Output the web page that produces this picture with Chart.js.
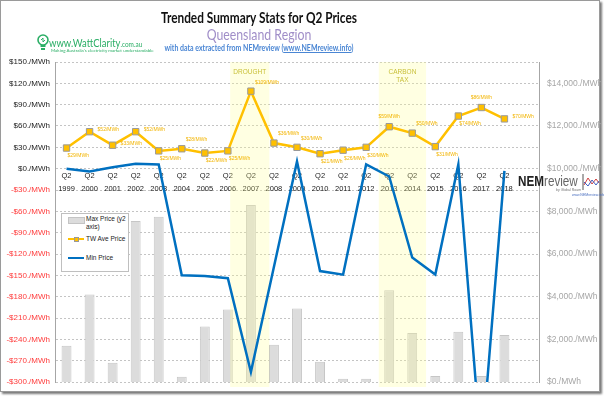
<!DOCTYPE html>
<html>
<head>
<meta charset="utf-8">
<script src="https://cdn.jsdelivr.net/npm/chart.js@4"></script>
<style>
  body { margin: 0; background: #fff; }
  #wrap { position: relative; width: 604px; height: 396px; overflow: hidden; }
  #frame { position: absolute; left: 0; top: 0; width: 598px; height: 390px; border: 1px solid #9a9a9a; box-shadow: 2px 2px 2px #7a7a7a; }
  canvas { position: absolute; left: 0; top: 0; }
  .t { position: absolute; white-space: nowrap; font-family: Lato, sans-serif; }
  .c { left: 59px; width: 400px; text-align: center; transform-origin: 50% 50%; }
  #title { top: 7px; font-size: 16px; font-weight: bold; color: #111; transform: scaleX(0.74); }
  #region { top: 25px; font-size: 15px; color: #a08ec8; transform: scaleX(0.82); }
  #sub { top: 43px; font-size: 8.5px; font-weight: bold; color: #4a86d4; transform: scaleX(0.82); }
  #sub u { color: #4a86d4; }
  #wc { left: 49px; top: 36px; font-size: 11px; color: #2bae66; transform: scaleX(0.86); transform-origin: 0 50%; }
  #wc small { font-size: 7.5px; }
  #wctag { left: 51px; top: 48px; font-size: 4.5px; color: #2bae66; }
  #bulb { position: absolute; left: 37px; top: 34px; }
  #nem { left: 518px; top: 172px; font-size: 15px; color: #222; font-family: "Liberation Sans", sans-serif; transform: scaleX(0.78); transform-origin: 0 50%; }
  #nem b { font-weight: bold; }
  #nem span { color: #666; }
  #nemby { left: 556px; top: 188px; font-size: 3.5px; color: #777; font-family: "Liberation Sans", sans-serif; }
  #nemurl { left: 572px; top: 193px; font-size: 3.5px; color: #4a6fc0; font-family: "Liberation Sans", sans-serif; }
  #nemicon { position: absolute; left: 582px; top: 173px; }
  #legend { position: absolute; left: 61px; top: 213px; width: 66px; height: 57px; border: 1px solid #bfbfbf; background: #fff;
            font-family: "Liberation Sans", sans-serif; font-size: 6.5px; color: #222; }
  .li { position: absolute; left: 24px; }
  .sw { position: absolute; left: 6px; }
</style>
</head>
<body>
<div id="wrap">
  <div id="frame"></div>
  <canvas id="chart" width="604" height="396"></canvas>
  <div class="t c" id="title">Trended Summary Stats for Q2 Prices</div>
  <div class="t c" id="region">Queensland Region</div>
  <div class="t c" id="sub">with data extracted from NEMreview (<u>www.NEMreview.info</u>)</div>
  <svg id="bulb" width="12" height="19" viewBox="0 0 12 19">
    <circle cx="6" cy="6" r="5" fill="none" stroke="#2bae66" stroke-width="1.6"/>
    <path d="M4 6 L6 4 L6 8 L8 6" fill="none" stroke="#2bae66" stroke-width="1"/>
    <rect x="3.5" y="11" width="5" height="2" fill="#2bae66"/>
    <rect x="4" y="14" width="4" height="2" fill="#2bae66"/>
  </svg>
  <div class="t" id="wc">www.WattClarity<small>.com.au</small></div>
  <div class="t" id="wctag">Making Australia's electricity market understandable</div>
  <div class="t" id="nem"><b>NEM</b><span>review</span></div>
  <svg id="nemicon" width="18" height="18" viewBox="0 0 18 18">
    <line x1="1" y1="1" x2="1" y2="17" stroke="#555" stroke-width="1"/>
    <polyline points="2,12 6,5 10,11 14,6 17,10" fill="none" stroke="#d04040" stroke-width="1"/>
    <polyline points="2,9 6,13 10,7 14,12 17,8" fill="none" stroke="#4060c0" stroke-width="1"/>
  </svg>
  <div class="t" id="nemby">by Global Roam</div>
  <div class="t" id="nemurl">www.NEMreview.info</div>
  <div id="legend">
    <div class="sw" style="top:3px;width:15px;height:5px;background:#dcdcdc;border:1px solid #c4c4c4;"></div>
    <div class="li" style="top:1px;line-height:8px;">Max Price (y2<br>axis)</div>
    <div class="sw" style="top:24px;width:16px;height:2px;background:#ffc000;"></div>
    <div class="sw" style="left:12px;top:23px;width:3px;height:3px;background:#ffc000;border:1px solid #999;"></div>
    <div class="li" style="top:21px;">TW Ave Price</div>
    <div class="sw" style="top:43px;width:16px;height:2px;background:#0070c0;"></div>
    <div class="li" style="top:40px;">Min Price</div>
  </div>
</div>
<script>
const years = ['1999', '2000', '2001', '2002', '2003', '2004', '2005', '2006', '2007', '2008',
               '2009', '2010', '2011', '2012', '2013', '2014', '2015', '2016', '2017', '2018', ''];
const maxPrice = [1700, 4100, 900, 7550, 7750, 250, 2600, 3400, 8300, 1750,
                  3450, 950, 150, 150, 4300, 2300, 280, 2350, 280, 2200];
const avgPrice = [29, 52, 33, 52, 25, 28, 22, 25, 109, 36,
                  30, 21, 26, 30, 59, 50, 31, 74, 86, 70];
const minPrice = [0, -4, 2, 7, 6, -150, -151, -154, -286, -138,
                  10, -144, -149, 6, -11, -125, -149, 6, -400, -3];
const leftTicks = { min: -300, max: 150, step: 30 };
const rightTickValues = [0, 2000, 4000, 6000, 8000, 10000, 12000, 14000];
const rightMax = 15000;
const bands = [
  { from: 7.1, to: 8.8, lines: ['DROUGHT'] },
  { from: 13.55, to: 15.6, lines: ['CARBON', 'TAX'] }
];

// where each avg label sits relative to its marker
const labelPlace = ['b', 'r', 'r', 'r', 'b', 'ar', 'b', 'b', 'ar', 'ar',
                    'ar', 'b', 'b', 'b', 'a', 'ar', 'b', 'b', 'a', 'r'];

const fmtLeft = v => (v < 0 ? '-$' + Math.abs(v) : '$' + v) + './MWh';
const fmtRight = v => '$' + v.toLocaleString('en-US') + './MWh';

const bandPlugin = {
  id: 'bands',
  afterDatasetDraw(chart, args) {
    if (args.index !== 0) return;
    const { ctx, chartArea } = chart;
    const x = chart.scales.x;
    ctx.save();
    bands.forEach(b => {
      const x0 = x.getPixelForValue(b.from), x1 = x.getPixelForValue(b.to);
      ctx.fillStyle = 'rgba(255,255,150,0.28)';
      ctx.fillRect(x0, chartArea.top, x1 - x0, chartArea.bottom - chartArea.top + 5);
      ctx.fillStyle = '#c9c03a';
      ctx.font = '6.5px "Liberation Sans", sans-serif';
      ctx.textAlign = 'center';
      ctx.textBaseline = 'middle';
      b.lines.forEach((t, i) => ctx.fillText(t, (x0 + x1) / 2, chartArea.top + 10 + i * 8));
    });
    ctx.restore();
  }
};

const labelPlugin = {
  id: 'avgLabels',
  afterDatasetsDraw(chart) {
    const { ctx } = chart;
    const meta = chart.getDatasetMeta(1);
    ctx.save();
    ctx.fillStyle = '#f2b400';
    ctx.font = '5px "Liberation Sans", sans-serif';
    ctx.textBaseline = 'middle';
    meta.data.forEach((pt, i) => {
      const txt = '$' + avgPrice[i] + '/MWh';
      const p = labelPlace[i];
      let dx = 0, dy = 0;
      ctx.textAlign = 'left';
      if (p === 'r') { dx = 8; dy = -2; }
      else if (p === 'b') { dx = 1; dy = 8; }
      else if (p === 'ar') { dx = 4; dy = -9; }
      else { ctx.textAlign = 'center'; dy = -10; }
      ctx.fillText(txt, pt.x + dx, pt.y + dy);
    });
    ctx.restore();
  }
};

new Chart(document.getElementById('chart'), {
  type: 'bar',
  data: {
    labels: years.map(y => y ? ['Q2', y] : ''),
    datasets: [
      {
        type: 'bar',
        label: 'Max Price (y2 axis)',
        data: maxPrice,
        yAxisID: 'y2',
        backgroundColor: '#dcdcdc',
        borderColor: '#c6c6c6',
        borderWidth: 1,
        categoryPercentage: 1,
        barPercentage: 0.43,
        order: 3
      },
      {
        type: 'line',
        label: 'TW Ave Price',
        data: avgPrice,
        yAxisID: 'y',
        borderColor: '#ffc000',
        borderWidth: 2.5,
        pointStyle: 'rect',
        pointRadius: 4.5,
        pointBackgroundColor: '#ffc000',
        pointBorderColor: '#9a9a9a',
        pointBorderWidth: 1,
        tension: 0,
        order: 1
      },
      {
        type: 'line',
        label: 'Min Price',
        data: minPrice,
        yAxisID: 'y',
        borderColor: '#0070c0',
        borderWidth: 2.5,
        pointRadius: 0,
        tension: 0,
        order: 2
      }
    ]
  },
  options: {
    responsive: false,
    animation: false,
    events: [],
    layout: { padding: { top: 62, bottom: 14, left: 0, right: 0 } },
    plugins: { legend: { display: false }, tooltip: { enabled: false } },
    scales: {
      x: {
        position: { y: 0 },
        grid: { display: false, drawTicks: false, tickLength: 0 },
        border: { display: false },
        ticks: {
          color: '#222',
          font: { family: 'Liberation Sans', size: 7.5, lineHeight: 1.75 },
          padding: 1,
          maxRotation: 0,
          autoSkip: false
        }
      },
      y: {
        position: 'left',
        min: leftTicks.min,
        max: leftTicks.max,
        afterFit: s => { s.width = 55; },
        ticks: {
          stepSize: leftTicks.step,
          padding: 5,
          font: { family: 'Liberation Sans', size: 8 },
          color: c => c.tick && c.tick.value < 0 ? '#ff3b3b' : '#222',
          callback: v => fmtLeft(v)
        },
        grid: { color: '#c4c4c4', drawTicks: false, tickLength: 0 },
        border: { color: '#a6a6a6', width: 1, dash: [2, 2] }
      },
      y2: {
        position: 'right',
        min: 0,
        max: rightMax,
        afterFit: s => { s.width = 65; },
        afterBuildTicks: s => { s.ticks = rightTickValues.map(v => ({ value: v })); },
        ticks: {
          autoSkip: false,
          padding: 8,
          font: { family: 'Liberation Sans', size: 8.5 },
          color: '#a6a6a6',
          callback: v => fmtRight(v)
        },
        grid: { display: false, drawTicks: false, tickLength: 0 },
        border: { color: '#a6a6a6', width: 1 }
      }
    }
  },
  plugins: [bandPlugin, labelPlugin]
});
</script>
</body>
</html>
